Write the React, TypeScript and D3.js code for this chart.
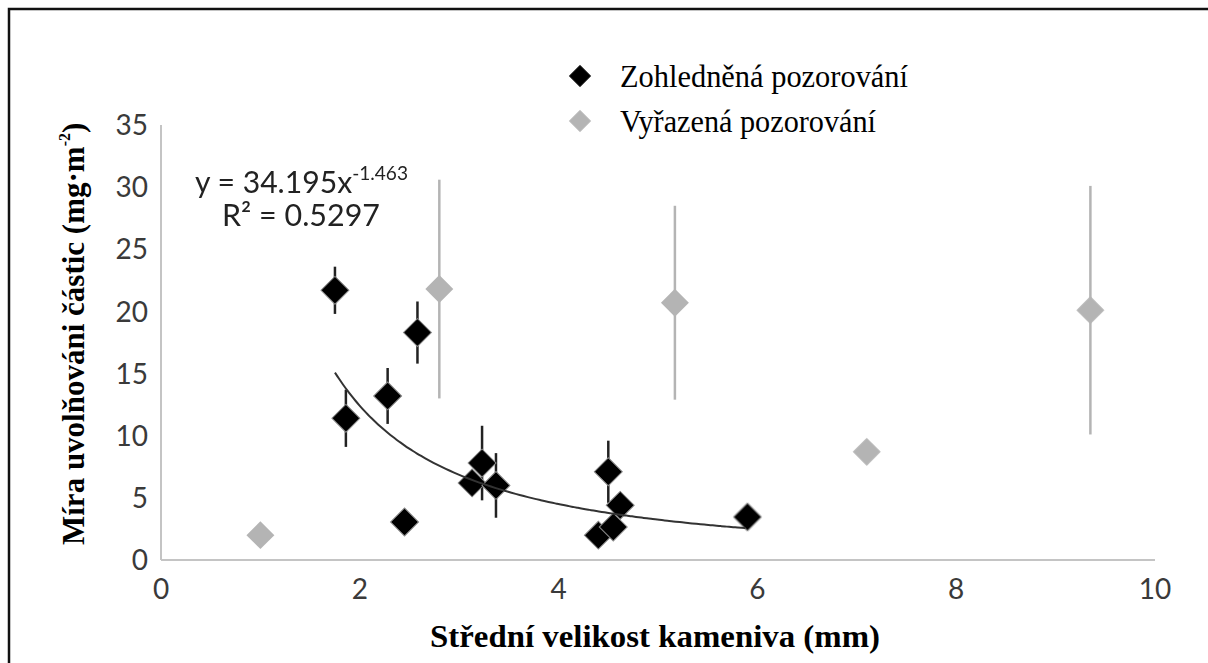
import React from "react";
import * as d3 from "d3";

// Included observations: mean aggregate size (mm), release rate, error half-width
const keptX = [1.75, 1.86, 2.28, 2.45, 2.58, 3.13, 3.23, 3.37, 4.4, 4.5, 4.55, 4.62, 5.9];
const keptY = [21.7, 11.4, 13.2, 3.06, 18.3, 6.2, 7.8, 6.0, 2.0, 7.1, 2.65, 4.4, 3.46];
const keptErr = [1.9, 2.3, 2.25, 0, 2.5, 0.8, 3.0, 2.6, 0, 2.5, 0.8, 0.8, 0];

// Excluded observations
const droppedX = [1.0, 2.8, 5.17, 7.1, 9.35];
const droppedY = [2.0, 21.8, 20.7, 8.7, 20.1];
const droppedErr = [0, 8.8, 7.8, 0, 10.0];

// Power-law fit y = a * x^b
const fitA = 34.195;
const fitB = -1.463;
const fitR2 = "0.5297";
const fitRange = [1.75, 5.88];

const xTicks = [0, 2, 4, 6, 8, 10];
const yTicks = [0, 5, 10, 15, 20, 25, 30, 35];

const legendLabels = ["Zohledněná pozorování", "Vyřazená pozorování"];

const W = 1208;
const H = 663;

export default function App() {
  const x = d3.scaleLinear().domain([0, 10]).range([161, 1155]);
  const y = d3.scaleLinear().domain([0, 35]).range([560, 125]);

  const diamond = d3.symbol(d3.symbolSquare, 390)() as string;

  const kept = keptX.map((v, i) => ({ x: v, y: keptY[i], e: keptErr[i] }));
  const dropped = droppedX.map((v, i) => ({ x: v, y: droppedY[i], e: droppedErr[i] }));

  const fitPts = d3.range(0, 101).map((i) => {
    const xv = fitRange[0] + ((fitRange[1] - fitRange[0]) * i) / 100;
    return [xv, fitA * Math.pow(xv, fitB)] as [number, number];
  });
  const fitLine = d3
    .line<[number, number]>()
    .x((d) => x(d[0]))
    .y((d) => y(d[1]))
    .curve(d3.curveBasis)(fitPts) as string;

  const black = "#000";
  const gray = "#b4b4b4";
  const sans = "Lato, 'Open Sans', sans-serif";
  const serif = "'Liberation Serif', 'DejaVu Serif', serif";

  return (
    <svg
      width={W}
      height={H}
      viewBox={`0 0 ${W} ${H}`}
      style={{ position: "absolute", left: 0, top: 0, background: "#fff" }}
    >
      <defs>
        <filter id="soft" x="-30%" y="-30%" width="160%" height="160%">
          <feGaussianBlur stdDeviation="0.6" />
        </filter>
      </defs>
      <rect x={0} y={0} width={W} height={H} fill="#fff" />
      {/* outer frame (continues beyond the right and bottom edges) */}
      <rect x={9} y={9} width={W + 40} height={H + 40} fill="none" stroke="#111" strokeWidth={2.5} />

      {/* axes */}
      <line x1={x(0)} x2={x(0)} y1={y(35)} y2={y(0)} stroke="#c4c4c4" strokeWidth={2} />
      <line x1={x(0)} x2={x(10)} y1={y(0)} y2={y(0)} stroke="#c4c4c4" strokeWidth={2} />

      {yTicks.map((t) => (
        <text
          key={"y" + t}
          x={148}
          y={y(t)}
          dy="0.36em"
          textAnchor="end"
          fontFamily={sans}
          fontSize={28}
          fill="#3a3a3a"
        >
          {t}
        </text>
      ))}
      {xTicks.map((t) => (
        <text
          key={"x" + t}
          x={x(t)}
          y={599}
          textAnchor="middle"
          fontFamily={sans}
          fontSize={28}
          fill="#3a3a3a"
        >
          {t}
        </text>
      ))}

      {/* axis titles */}
      <text
        x={655}
        y={647}
        textAnchor="middle"
        fontFamily={serif}
        fontWeight="bold"
        fontSize={31}
        textLength={450}
        lengthAdjust="spacingAndGlyphs"
        fill="#000"
      >
        Střední velikost kameniva (mm)
      </text>
      <g transform="translate(84,545) rotate(-90)">
        <text x={0} y={0} fontFamily={serif} fontWeight="bold" fontSize={31} fill="#000">
          <tspan>Míra uvolňováni částic (mg·m</tspan>
          <tspan fontSize={16} dy={-14}>-2</tspan>
          <tspan dy={14}>)</tspan>
        </text>
      </g>

      {/* error bars */}
      {dropped
        .filter((d) => d.e > 0)
        .map((d, i) => (
          <line
            key={"de" + i}
            x1={x(d.x)}
            x2={x(d.x)}
            y1={y(d.y + d.e)}
            y2={y(d.y - d.e)}
            stroke={gray}
            strokeWidth={2.5}
          />
        ))}
      {kept
        .filter((d) => d.e > 0)
        .map((d, i) => (
          <line
            key={"ke" + i}
            x1={x(d.x)}
            x2={x(d.x)}
            y1={y(d.y + d.e)}
            y2={y(d.y - d.e)}
            stroke="#222"
            strokeWidth={2.5}
          />
        ))}

      {/* markers */}
      <g filter="url(#soft)">
        {dropped.map((d, i) => (
          <path
            key={"dm" + i}
            d={diamond}
            transform={`translate(${x(d.x)},${y(d.y)}) rotate(45)`}
            fill={gray}
          />
        ))}
        {kept.map((d, i) => (
          <path
            key={"km" + i}
            d={diamond}
            transform={`translate(${x(d.x)},${y(d.y)}) rotate(45)`}
            fill={black}
            stroke="#8a8a8a"
            strokeWidth={1}
          />
        ))}
      </g>

      {/* fitted power curve */}
      <path d={fitLine} fill="none" stroke="#333" strokeWidth={2} />

      {/* fit equation */}
      <text
        x={195}
        y={193}
        fontFamily={sans}
        fontSize={30}
        fill="#222"
        textLength={213}
        lengthAdjust="spacingAndGlyphs"
      >
        <tspan>y = 34.195x</tspan>
        <tspan fontSize={19} dy={-13}>{String(fitB)}</tspan>
      </text>
      <text
        x={222}
        y={226}
        fontFamily={sans}
        fontSize={30}
        fill="#222"
        textLength={158}
        lengthAdjust="spacingAndGlyphs"
      >
        {`R² = ${fitR2}`}
      </text>

      {/* legend */}
      <path d={diamond} transform="translate(580,76) rotate(45) scale(0.8)" fill={black} filter="url(#soft)" />
      <path d={diamond} transform="translate(580,121) rotate(45) scale(0.8)" fill={gray} filter="url(#soft)" />
      <text
        x={620}
        y={87}
        fontFamily={serif}
        fontSize={31}
        fill="#000"
        textLength={288}
        lengthAdjust="spacingAndGlyphs"
      >
        {legendLabels[0]}
      </text>
      <text
        x={620}
        y={132}
        fontFamily={serif}
        fontSize={31}
        fill="#000"
        textLength={256}
        lengthAdjust="spacingAndGlyphs"
      >
        {legendLabels[1]}
      </text>
    </svg>
  );
}
